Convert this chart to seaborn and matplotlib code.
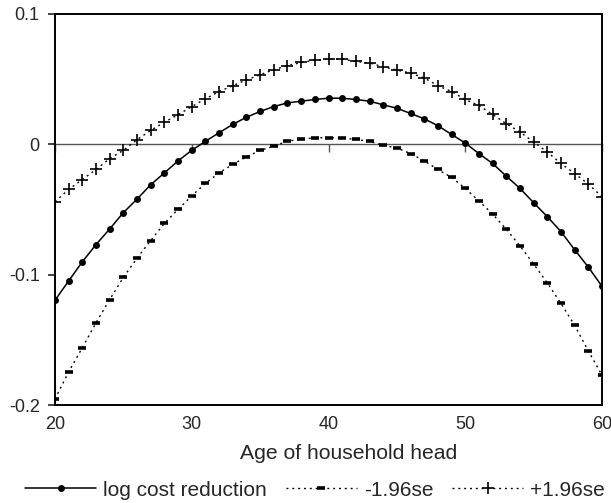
import numpy as np
import pandas as pd
import matplotlib
matplotlib.use("Agg")
import matplotlib.pyplot as plt
import seaborn as sns

ages = list(range(20, 61))

log_cost_reduction = [
    -0.1196, -0.1048, -0.0901, -0.0769, -0.0649, -0.0524, -0.0420, -0.0310, -0.0219, -0.0127,
    -0.0046, 0.0023, 0.0089, 0.0153, 0.0208, 0.0252, 0.0290, 0.0318, 0.0331, 0.0344,
    0.0354, 0.0354, 0.0344, 0.0331, 0.0303, 0.0277, 0.0237, 0.0196, 0.0143, 0.0076,
    0.0010, -0.0071, -0.0147, -0.0244, -0.0338, -0.0448, -0.0555, -0.0670, -0.0809, -0.0942,
    -0.1089,
]

minus_196se = [
    -0.1954, -0.1746, -0.1560, -0.1369, -0.1191, -0.1021, -0.0873, -0.0738, -0.0606, -0.0499,
    -0.0395, -0.0300, -0.0219, -0.0153, -0.0097, -0.0046, -0.0015, 0.0025, 0.0038, 0.0051,
    0.0051, 0.0048, 0.0038, 0.0023, -0.0008, -0.0028, -0.0071, -0.0127, -0.0193, -0.0254,
    -0.0338, -0.0435, -0.0534, -0.0651, -0.0779, -0.0918, -0.1063, -0.1221, -0.1389, -0.1585,
    -0.1771,
]

plus_196se = [
    -0.0440, -0.0346, -0.0270, -0.0193, -0.0109, -0.0046, 0.0036, 0.0107, 0.0170, 0.0227,
    0.0290, 0.0349, 0.0405, 0.0450, 0.0494, 0.0534, 0.0573, 0.0603, 0.0628, 0.0646,
    0.0656, 0.0654, 0.0636, 0.0624, 0.0595, 0.0570, 0.0547, 0.0509, 0.0450, 0.0405,
    0.0344, 0.0298, 0.0229, 0.0158, 0.0095, 0.0018, -0.0059, -0.0147, -0.0224, -0.0305,
    -0.0402,
]

x_ticks = [20, 30, 40, 50, 60]
y_ticks = [-0.2, -0.1, 0.0, 0.1]
y_tick_labels = ["-0.2", "-0.1", "0", "0.1"]
series_labels = ["log cost reduction", "-1.96se", "+1.96se"]

sns.set_style("white")
plt.rcParams["font.family"] = ["Liberation Sans", "DejaVu Sans"]

fig = plt.figure(figsize=(6.11, 5.03), dpi=100)
ax = fig.add_axes([55 / 611, 1 - 405 / 503, (602 - 55) / 611, (405 - 14) / 503])

df_main = pd.DataFrame({"age": ages, "value": log_cost_reduction})
df_minus = pd.DataFrame({"age": ages, "value": minus_196se})
df_plus = pd.DataFrame({"age": ages, "value": plus_196se})

sns.lineplot(data=df_main, x="age", y="value", ax=ax, color="black", linewidth=1.1,
             marker="o", markersize=5, markeredgewidth=0, markerfacecolor="black",
             markeredgecolor="black", label=series_labels[0])
sns.lineplot(data=df_minus, x="age", y="value", ax=ax, color="black", linewidth=1.0,
             marker="_", markersize=6, markeredgewidth=2.6, markeredgecolor="black",
             label=series_labels[1])
sns.lineplot(data=df_plus, x="age", y="value", ax=ax, color="black", linewidth=1.0,
             marker="+", markersize=8, markeredgewidth=1.2, markeredgecolor="black",
             label=series_labels[2])
for ln in ax.get_lines()[1:3]:
    ln.set_dashes((1.4, 2.8))

ax.set_xlim(20, 60)
ax.set_ylim(-0.2, 0.1)
ax.set_xticks(x_ticks)
ax.set_xticklabels([str(t) for t in x_ticks])
ax.set_yticks(y_ticks)
ax.set_yticklabels(y_tick_labels)
ax.tick_params(axis="x", length=0, pad=8, labelsize=13)
ax.tick_params(axis="y", direction="out", length=5, width=1.2, pad=6, labelsize=13, left=True)
for s in ax.spines.values():
    s.set_color("black")
    s.set_linewidth(1.4)
ax.set_ylabel("")
ax.set_xlabel("Age of household head", fontsize=15.2)
ax.xaxis.set_label_coords(0.536, -0.123)
ax.xaxis.label.set_verticalalignment("center")

# zero axis with tick marks
sec = ax.secondary_xaxis(0, transform=ax.transData)
sec.set_alignment("bottom")
sec.set_xticks(x_ticks)
sec.tick_params(axis="x", direction="out", length=6, width=1.0, color="#555555",
                labelbottom=False, labeltop=False)
for s in sec.spines.values():
    s.set_color("#555555")
    s.set_linewidth(1.0)

handles, labels = ax.get_legend_handles_labels()
ax.legend_.remove()
fig.legend(handles, labels, loc="center", bbox_to_anchor=(0.516, 1 - 490 / 503), ncol=3,
           frameon=False, fontsize=15, handlelength=3.4, handletextpad=0.35,
           columnspacing=0.9, borderaxespad=0, borderpad=0)

fig.savefig("out.png", dpi=100)
